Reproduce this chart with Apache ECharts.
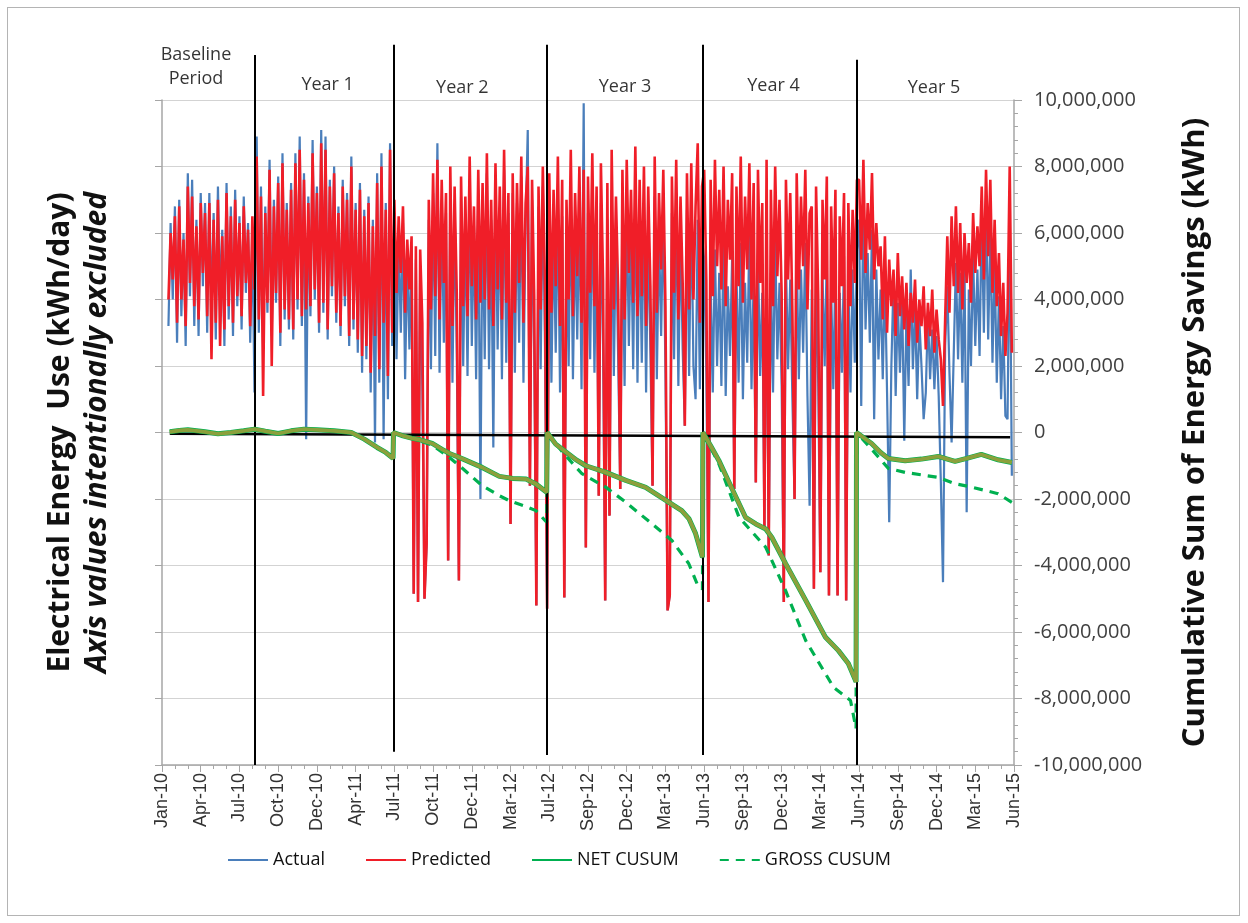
<!DOCTYPE html>
<html>
<head>
<meta charset="utf-8">
<title>Electrical energy use and CUSUM savings</title>
<script src="https://cdn.jsdelivr.net/npm/echarts@6/dist/echarts.min.js"></script>
<style>
  html, body { margin: 0; padding: 0; background: #fff; }
  #frame { position: absolute; left: 7px; top: 7px; width: 1231px; height: 907px; border: 1.5px solid #b4b4b4; }
  #chart { position: absolute; left: 0; top: 0; width: 1248px; height: 923px; }
</style>
</head>
<body>
<div id="frame"></div>
<div id="chart"></div>
<script>
// daily use, sampled every 5 days from day 15 (day 0 = Jan-10), left-axis units
const firstDay = 15;
const dayStep = 5;

const actualBaseline = [3.2, 6.3, 4.0, 6.8, 2.7, 7.0, 3.5, 6.0, 2.6, 7.8, 4.1, 7.6, 3.2, 6.4, 2.9, 7.2, 4.4, 6.9, 3.0, 7.2,
  3.6, 6.6, 2.8, 7.4, 4.0, 6.1, 2.6, 7.5, 3.4, 6.8, 2.9, 7.3, 3.8, 6.5, 3.1, 7.1, 4.2, 6.3, 2.7, 5.9, 1.2];
const predictedBaseline = [4.0, 6.0, 4.6, 6.5, 3.3, 6.8, 4.0, 5.8, 3.2, 7.4, 4.5, 7.1, 3.8, 6.2, 3.4, 6.9, 4.8, 6.6, 3.5, 6.9,
  2.2, 6.4, 3.3, 7.0, 2.6, 5.9, 3.1, 7.2, 3.8, 6.5, 3.3, 7.0, 4.1, 6.3, 3.5, 6.8, 4.5, 6.1, 3.2, 6.5, 4.3];

const actualYear1 = [8.9, 3.0, 7.4, 2.5, 6.8, 3.6, 8.2, 2.9, 7.0, 3.9, 7.7, 2.6, 8.4, 3.4, 6.9, 3.1, 7.5, 2.8, 8.4, 3.7,
  8.9, 3.2, 7.8, -0.2, 7.1, 3.5, 8.8, 4.0, 7.4, 3.0, 9.1, 3.6, 8.9, 2.8, 7.6, 4.1, 8.0, 3.3, 6.8, 2.9,
  7.6, 3.8, 7.2, 2.6, 8.3, 3.1, 6.9, 2.4, 7.5, 1.8, 6.7, 2.2, 7.1, 1.2, 6.4, -0.3, 7.8, 1.5, 8.4, -0.2,
  6.9, 1.0, 8.7, 2.6];
const predictedYear1 = [8.3, 3.4, 7.1, 1.1, 6.6, 3.9, 7.9, 2.0, 6.8, 4.2, 7.5, 3.0, 8.1, 3.7, 6.7, 3.4, 7.3, 3.1, 8.1, 4.0,
  8.5, 3.5, 7.6, 3.7, 6.9, 3.8, 8.4, 4.3, 7.2, 3.3, 8.7, 3.9, 8.5, 3.1, 7.4, 4.4, 7.8, 3.6, 6.6, 3.2,
  7.4, 4.1, 7.0, 2.9, 8.0, 3.4, 6.7, 2.8, 7.3, 2.3, 6.5, 2.6, 6.9, 1.8, 6.2, 2.9, 7.5, 1.9, 8.0, 3.3,
  6.7, 1.7, 8.5, 3.0];

const actualYear2 = [6.6, 2.2, 5.9, 3.0, 6.3, 1.6, 5.4, 2.5, 5.6, -4.85, 5.2, -5.1, 5.0, 1.4, -5.0, -3.35, 6.4, 1.9, 7.2, 2.3,
  8.7, 1.8, 7.0, 2.7, 6.6, -3.85, 7.4, 1.5, 6.8, 2.4, -4.45, 7.1, 2.0, 6.5, 1.7, 7.6, 2.6, 6.2, 1.6, 7.3,
  -2.0, 6.9, 2.2, 7.8, 1.9, 6.4, -0.45, 7.5, 2.5, 6.8, 1.6, 7.9, 2.1, 6.6, -2.75, 7.2, 1.8, 6.9, 2.7, 7.7,
  1.5, 6.3, 9.1, -1.6, 7.0, 2.3, -5.2, 6.8, 1.9, 7.4, 2.6, -5.3];
const predictedYear2 = [7.0, 4.2, 6.5, 4.8, 6.8, 3.6, 5.8, 4.3, 5.9, -4.85, 5.6, -5.1, 5.5, 3.3, -5.0, -3.35, 7.0, 3.7, 7.8, 4.1,
  8.2, 3.4, 7.6, 4.5, 7.2, -3.85, 8.0, 3.2, 7.4, 4.2, -4.45, 7.7, 3.8, 7.1, 3.5, 8.3, 4.4, 6.8, 3.4, 7.9,
  3.9, 7.5, 4.0, 8.4, 3.7, 7.0, 3.2, 8.1, 4.3, 7.4, 3.4, 8.5, 3.9, 7.2, -2.75, 7.8, 3.6, 7.5, 4.5, 8.3,
  3.3, 6.9, 8.0, -1.6, 7.6, 4.1, -5.2, 7.4, 3.7, 8.0, 4.4, -5.3];

const actualYear3 = [6.9, 1.5, 6.2, 2.4, 7.0, 1.2, 6.5, -4.96, 5.8, 2.0, 7.2, 1.6, 6.0, 2.8, 6.8, 1.3, 9.9, -3.46, 6.6, 2.2,
  7.1, 1.8, 6.3, -1.9, 6.9, 2.5, -5.05, 6.4, -2.5, 7.3, 1.7, 6.1, 2.3, -1.7, 6.7, 1.4, 7.0, 2.6, 6.2, 1.9,
  7.4, 1.5, 6.5, 2.1, 6.9, 1.2, 6.3, 2.4, -1.6, 7.1, 1.6, 6.0, 2.9, 6.8, 1.8, -5.35, -4.9, 6.6, 2.2, 7.2,
  1.4, 6.1, 2.5, 0.2, 6.7, 1.7, 7.0, 2.0, 1.0, 6.4, 1.3, 5.9];
const predictedYear3 = [7.8, 3.6, 7.3, 4.4, 8.3, 3.2, 7.6, -4.96, 7.0, 4.0, 8.5, 3.5, 7.2, 4.7, 8.0, 3.3, 7.9, -3.46, 7.7, 4.2,
  8.4, 3.8, 7.4, -1.9, 8.1, 4.6, -5.05, 7.5, -2.5, 8.5, 3.7, 7.1, 4.3, -1.7, 7.9, 3.4, 8.2, 4.8, 7.3, 3.9,
  8.6, 3.5, 7.6, 4.1, 8.0, 3.2, 7.4, 4.4, -1.6, 8.3, 3.6, 7.2, 4.9, 7.9, 3.8, -5.35, -4.9, 7.7, 4.2, 8.2,
  3.4, 7.1, 4.5, 0.2, 7.8, 3.7, 8.1, 4.0, 6.8, 8.7, 3.3, 7.4];

const actualYear4 = [5.2, 1.8, -5.1, 4.6, 1.2, 5.5, 2.0, 4.8, 1.4, 5.9, 1.1, 4.4, 2.3, 5.3, -1.7, 4.9, 1.5, 5.7, 1.0, 4.5,
  2.1, 6.0, 1.3, 4.7, -1.5, 5.4, 1.7, 4.2, -2.9, 5.6, -3.7, 4.8, 1.2, 5.9, 2.2, 4.5, 1.4, -5.1, 5.2, 1.9,
  4.6, 1.0, -2.0, 5.5, 1.6, 4.9, 2.4, 5.7, 1.1, -2.2, 4.3, -4.7, 5.1, 1.5, -4.2, 4.7, 2.0, 5.4, -4.9, 4.4,
  1.3, 5.0, -4.9, 4.2, 1.8, 5.3, -5.05, 4.6, 1.2, 4.9, 2.1, 5.5];
const predictedYear4 = [7.9, 4.6, -5.1, 7.6, 4.1, 8.2, 5.0, 7.3, 4.3, 8.0, 3.8, 7.0, 5.2, 7.8, -1.7, 7.4, 4.4, 8.3, 3.9, 7.1,
  4.9, 8.1, 4.0, 7.5, -1.5, 7.9, 4.5, 6.9, -2.9, 8.2, -3.7, 7.3, 3.8, 8.0, 4.7, 7.0, 4.2, -5.1, 7.6, 4.6,
  7.2, 3.6, -2.0, 7.8, 4.3, 7.1, 5.0, 7.9, 3.7, 6.6, 6.8, -4.7, 7.4, 4.1, -4.2, 7.0, 4.6, 7.7, -4.9, 6.8,
  3.9, 7.3, -4.9, 6.5, 4.4, 7.2, -5.05, 6.9, 3.8, 6.7, 4.5, 7.6];

const actualYear5 = [6.4, 0.8, 7.3, 3.1, 5.4, 2.7, 6.1, 0.4, 4.9, 2.2, 4.3, 1.6, 4.8, 1.2, -2.7, 2.0, 4.6, 1.1, 3.9, 1.8,
  4.1, -0.25, 3.6, 1.4, 4.9, 1.9, 3.8, 1.0, 3.4, 2.0, 0.4, 1.2, 3.6, 1.6, 3.1, 1.3, 2.9, 1.1, -1.5, -4.5,
  2.6, 4.4, 1.8, -0.3, 2.4, 5.1, 2.2, 4.8, 1.5, 5.0, -2.4, 4.3, 2.0, 5.3, 2.6, 4.9, 2.3, 6.6, 3.0, 7.0,
  2.8, 6.0, 2.1, 5.2, 1.5, 4.1, 1.0, 3.2, 0.5, 0.4, 6.7, -1.3];
const predictedYear5 = [7.6, 5.2, 8.2, 4.8, 6.9, 5.5, 7.8, 4.6, 6.3, 5.0, 5.6, 3.4, 5.9, 3.0, 5.2, 3.8, 4.9, 2.9, 5.4, 3.5,
  4.7, 3.1, 4.5, 2.6, 4.2, 3.3, 4.6, 2.7, 4.0, 3.2, 4.4, 2.5, 3.9, 2.9, 4.3, 2.4, 3.7, 2.8, 2.2, 0.8,
  3.4, 5.9, 3.6, 6.5, 4.4, 6.8, 4.2, 6.3, 3.7, 6.0, 4.5, 5.7, 3.9, 6.6, 4.8, 6.2, 5.0, 7.4, 4.6, 7.9,
  5.3, 7.6, 4.2, 6.4, 3.8, 5.4, 2.9, 4.5, 2.3, 3.6, 8.0, 2.4];

// cumulative sums, millions of kWh, against day number (reset at each new year)
const netDays = [18, 40, 60, 80, 100, 130, 160, 190, 215, 240, 270, 300, 330, 360, 400, 440, 470, 500, 520, 537,
  538, 560, 580, 600, 628, 650, 668, 700, 744, 784, 815, 846, 869, 894,
  895, 915, 934, 960, 985, 1032, 1078, 1124, 1171, 1208, 1225, 1240, 1256,
  1257, 1275, 1294, 1325, 1356, 1380, 1403, 1417, 1449, 1496, 1542, 1572, 1595, 1613,
  1614, 1630, 1649, 1670, 1688, 1727, 1765, 1804, 1843, 1870, 1904, 1943, 1975];
const netCusum = [0.02, 0.06, 0.08, 0.05, 0.02, -0.04, 0.0, 0.05, 0.1, 0.04, -0.03, 0.05, 0.1, 0.08, 0.05, 0.0, -0.2, -0.45, -0.6, -0.78,
  0, -0.1, -0.17, -0.22, -0.33, -0.5, -0.63, -0.8, -1.05, -1.32, -1.38, -1.4, -1.55, -1.8,
  0, -0.35, -0.54, -0.8, -1.0, -1.2, -1.44, -1.65, -2.04, -2.35, -2.6, -3.04, -3.75,
  0, -0.4, -0.84, -1.7, -2.55, -2.75, -2.9, -3.15, -3.94, -5.05, -6.16, -6.56, -6.95, -7.5,
  0, -0.15, -0.33, -0.6, -0.78, -0.85, -0.8, -0.72, -0.87, -0.78, -0.66, -0.82, -0.9];

const grossDays = [18, 60, 100, 130, 160, 215, 270, 330, 400, 440, 470, 500, 520, 537,
  538, 560, 600, 628, 668, 700, 744, 784, 807, 840, 869, 894,
  895, 934, 976, 1032, 1078, 1138, 1185, 1224, 1247, 1256,
  1257, 1294, 1341, 1403, 1449, 1496, 1561, 1600, 1613,
  1614, 1649, 1688, 1727, 1804, 1843, 1881, 1943, 1975];
const grossCusum = [0.02, 0.08, 0.02, -0.04, 0.0, 0.1, -0.03, 0.1, 0.05, 0.0, -0.2, -0.45, -0.6, -0.78,
  0, -0.1, -0.25, -0.38, -0.75, -1.1, -1.6, -1.9, -2.05, -2.2, -2.35, -2.7,
  0, -0.64, -1.24, -1.65, -2.1, -2.74, -3.25, -3.94, -4.66, -4.7,
  0, -0.94, -2.55, -3.45, -4.75, -6.26, -7.67, -8.06, -8.9,
  0, -0.5, -1.08, -1.2, -1.35, -1.54, -1.64, -1.84, -2.1];

// period boundaries and header labels
const periodDays = [216, 538, 895, 1257, 1614];
const dividerTop = [0.75, 0.92, 0.92, 0.92, 0.67];
const dividerBottom = [-10, -9.6, -9.7, -9.7, -10];
const periodNames = ['Baseline\nPeriod', 'Year 1', 'Year 2', 'Year 3', 'Year 4', 'Year 5'];
const periodLabelDays = [79, 385, 698, 1076, 1421, 1794];
const periodLabelLevel = [0.55, 0.26, 0.21, 0.22, 0.24, 0.2];

const tickLabels = ['Jan-10', 'Apr-10', 'Jul-10', 'Oct-10', 'Dec-10', 'Apr-11', 'Jul-11', 'Oct-11', 'Dec-11', 'Mar-12',
  'Jul-12', 'Sep-12', 'Dec-12', 'Mar-13', 'Jun-13', 'Sep-13', 'Dec-13', 'Mar-14', 'Jun-14', 'Sep-14',
  'Dec-14', 'Mar-15', 'Jun-15'];
const tickDays = 90;

const actual = [].concat(actualBaseline, actualYear1, actualYear2, actualYear3, actualYear4, actualYear5);
const predicted = [].concat(predictedBaseline, predictedYear1, predictedYear2, predictedYear3, predictedYear4, predictedYear5);
const sampled = arr => arr.map((v, i) => [firstDay + i * dayStep, v]);
const cusum = (days, vals) => days.map((d, i) => [d, vals[i] * 1e6]);

const axisGrey = '#a6a6a6';
const font = 'Open Sans';

const option = {
  animation: false,
  backgroundColor: 'transparent',
  grid: [
    { left: 162, right: 234, top: 100, bottom: 158 },
    { left: 162, right: 234, top: 40, height: 60 }
  ],
  legend: {
    top: 846,
    left: 222,
    itemWidth: 40,
    itemHeight: 12,
    itemGap: 40,
    itemStyle: { opacity: 0 },
    textStyle: { fontFamily: font, fontSize: 18, color: '#111' },
    data: ['Actual', 'Predicted', 'NET CUSUM', 'GROSS CUSUM']
  },
  xAxis: [
    {
      type: 'value', gridIndex: 0, min: 0, max: tickDays * 22, interval: tickDays,
      axisLine: { onZero: false, lineStyle: { color: axisGrey, width: 1.5 } },
      axisTick: { show: true, length: 7, lineStyle: { color: axisGrey } },
      minorTick: { show: true, splitNumber: 3, length: 4, lineStyle: { color: axisGrey } },
      splitLine: { show: false },
      axisLabel: {
        rotate: 90, margin: 8, fontFamily: 'Liberation Sans', fontSize: 18, color: '#333',
        formatter: v => tickLabels[Math.round(v / tickDays)]
      }
    },
    { type: 'value', gridIndex: 1, min: 0, max: tickDays * 22, show: false }
  ],
  yAxis: [
    {
      type: 'value', gridIndex: 0, position: 'left', min: -10, max: 10, interval: 2,
      axisLine: { show: true, onZero: false, lineStyle: { color: axisGrey, width: 1.5 } },
      axisTick: { show: true, length: 7, lineStyle: { color: axisGrey } },
      axisLabel: { show: false },
      splitLine: { show: true, lineStyle: { color: '#d3d3d3', width: 1.2 } },
      name: '{a|Electrical Energy  Use (kWh/day)}\n{b|Axis values intentionally excluded}',
      nameLocation: 'middle', nameRotate: 90, nameGap: 46,
      nameTextStyle: {
        rich: {
          a: { fontFamily: font, fontSize: 30, fontWeight: 'bold', color: '#111', lineHeight: 37 },
          b: { fontFamily: font, fontSize: 30, fontWeight: 'bold', fontStyle: 'italic', color: '#111', lineHeight: 37 }
        }
      }
    },
    {
      type: 'value', gridIndex: 0, position: 'right', min: -10e6, max: 10e6, interval: 2e6,
      axisLine: { show: true, onZero: false, lineStyle: { color: axisGrey, width: 1.5 } },
      axisTick: { show: true, length: 8, lineStyle: { color: axisGrey } },
      minorTick: { show: true, splitNumber: 5, length: 4, lineStyle: { color: axisGrey } },
      splitLine: { show: false },
      axisLabel: {
        margin: 20, fontFamily: font, fontSize: 20, color: '#404040',
        formatter: v => v.toLocaleString('en-US')
      },
      name: 'Cumulative Sum of Energy Savings (kWh)',
      nameLocation: 'middle', nameRotate: 90, nameGap: 166,
      nameTextStyle: { fontFamily: font, fontSize: 31, fontWeight: 'bold', color: '#111' }
    },
    { type: 'value', gridIndex: 1, min: 0, max: 1, show: false }
  ],
  series: [
    {
      name: 'Actual', type: 'line', xAxisIndex: 0, yAxisIndex: 0, z: 2,
      symbol: 'none', color: '#4a7ebb',
      lineStyle: { width: 2.2 },
      data: sampled(actual)
    },
    {
      name: 'Predicted', type: 'line', xAxisIndex: 0, yAxisIndex: 0, z: 3,
      symbol: 'none', color: '#f01e28',
      lineStyle: { width: 2.6 },
      data: sampled(predicted)
    },
    {
      name: 'GROSS CUSUM', type: 'line', xAxisIndex: 0, yAxisIndex: 1, z: 4,
      symbol: 'none', color: '#00b050',
      lineStyle: { width: 3.2, type: [9, 7] },
      data: cusum(grossDays, grossCusum),
      markLine: {
        silent: true, symbol: ['none', 'none'], label: { show: false },
        lineStyle: { color: '#000', width: 2.5, type: 'solid' },
        data: [[{ coord: [18, -0.04e6] }, { coord: [1971, -0.14e6] }]]
      }
    },
    {
      name: 'NET CUSUM', type: 'line', xAxisIndex: 0, yAxisIndex: 1, z: 5,
      symbol: 'none', color: '#00b050',
      lineStyle: { width: 5 },
      data: cusum(netDays, netCusum)
    },
    {
      name: 'net-overlay', type: 'line', xAxisIndex: 0, yAxisIndex: 1, z: 6,
      symbol: 'none', color: '#8ba03c',
      lineStyle: { width: 3.8 },
      data: cusum(netDays, netCusum),
      markLine: {
        silent: true, symbol: ['none', 'none'], label: { show: false },
        lineStyle: { color: '#000', width: 2, type: 'solid' },
        data: periodDays.map((d, k) => [{ coord: [d, 10e6] }, { coord: [d, dividerBottom[k] * 1e6] }])
      }
    },
    {
      name: 'periods', type: 'scatter', xAxisIndex: 1, yAxisIndex: 2,
      symbolSize: 0, silent: true,
      data: periodLabelDays.map((d, k) => [d, periodLabelLevel[k]]),
      label: {
        show: true, position: 'inside', fontFamily: font, fontSize: 18, color: '#000', lineHeight: 24,
        formatter: p => periodNames[p.dataIndex]
      },
      markLine: {
        silent: true, symbol: ['none', 'none'], label: { show: false },
        lineStyle: { color: '#000', width: 2, type: 'solid' },
        data: periodDays.map((d, k) => [{ coord: [d, 0] }, { coord: [d, dividerTop[k]] }])
      }
    }
  ]
};

const chart = echarts.init(document.getElementById('chart'));
chart.setOption(option);
</script>
</body>
</html>
